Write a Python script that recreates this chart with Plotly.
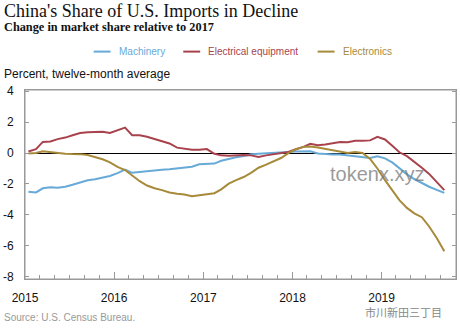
import plotly.graph_objects as go
import pandas as pd

# ---- data ----
months = pd.date_range("2015-01-01", "2019-09-01", freq="MS") + pd.Timedelta(days=14)

series_names = ["Machinery", "Electrical equipment", "Electronics"]
series_colors = ["#67aad8", "#a8434d", "#a78a3a"]

machinery = [-2.5, -2.55, -2.28, -2.22, -2.25, -2.18, -2.05, -1.9, -1.76, -1.7,
             -1.6, -1.48, -1.3, -1.07, -1.28, -1.22, -1.15, -1.12, -1.08, -1.05,
             -1.0, -0.95, -0.88, -0.72, -0.69, -0.68, -0.5, -0.38, -0.27, -0.2,
             -0.08, -0.04, 0.0, 0.03, 0.05, 0.07, 0.1, 0.11, 0.11, -0.03,
             -0.08, -0.1, -0.1, -0.16, -0.2, -0.24, -0.32, -0.21, -0.34, -0.62,
             -1.0, -1.38, -1.68, -1.95, -2.18, -2.38, -2.58]

electrical = [0.1, 0.25, 0.72, 0.75, 0.9, 1.0, 1.15, 1.3, 1.35, 1.38,
              1.38, 1.3, 1.45, 1.65, 1.15, 1.15, 1.05, 0.9, 0.77, 0.62,
              0.35, 0.3, 0.22, 0.22, 0.26, -0.05, -0.15, -0.17, -0.15, -0.12,
              -0.15, -0.25, -0.15, -0.08, -0.03, 0.07, 0.25, 0.4, 0.6, 0.5,
              0.55, 0.65, 0.72, 0.7, 0.8, 0.8, 0.82, 1.05, 0.88, 0.45,
              0.05, -0.2, -0.55, -0.95, -1.35, -1.85, -2.4]

electronics = [-0.03, 0.0, 0.12, 0.05, 0.0, -0.04, -0.06, -0.07, -0.13, -0.25,
               -0.4, -0.6, -0.9, -1.1, -1.45, -1.82, -2.1, -2.28, -2.4, -2.55,
               -2.64, -2.68, -2.8, -2.75, -2.7, -2.6, -2.35, -1.98, -1.75, -1.55,
               -1.28, -0.95, -0.75, -0.55, -0.32, 0.0, 0.25, 0.4, 0.43, 0.36,
               0.28, 0.2, 0.12, 0.0, 0.06, 0.0, -0.38, -1.0, -1.75, -2.45,
               -3.05, -3.55, -3.9, -4.15, -4.75, -5.5, -6.35]

y_tick_vals = [4, 2, 0, -2, -4, -6, -8]
y_tick_text = ["4", "2", "0", "-2", "-4", "-6", "-8"]

# ---- layout geometry (pixels) ----
W, H = 460, 332
L, R, T, B = 24, 457, 89.5, 279


def px(x):
    return (x - L) / (R - L)


def py(y):
    return (B - y) / (B - T)


SANS = "Liberation Sans, Arial, sans-serif"
SERIF = "Liberation Serif, Times New Roman, serif"

fig = go.Figure()
for name, vals, col in zip(series_names, [machinery, electrical, electronics], series_colors):
    fig.add_trace(go.Scatter(x=months, y=vals, mode="lines", name=name,
                             line=dict(color=col, width=2), showlegend=False))

fig.update_layout(
    width=W, height=H,
    margin=dict(l=L, r=W - R, t=T, b=H - B, pad=0),
    paper_bgcolor="white", plot_bgcolor="white",
    font=dict(family=SANS, size=12, color="#111"),
    xaxis=dict(
        type="date", range=["2015-01-01", "2019-11-02"],
        tick0="2015-01-01", dtick="M12", tickformat="%Y",
        ticks="inside", ticklen=7, tickcolor="#999", tickwidth=1,
        minor=dict(dtick="M2", ticks="inside", ticklen=4, tickcolor="#999"),
        showline=True, linecolor="#999", linewidth=1, mirror=True,
        showgrid=False, zeroline=False,
        tickfont=dict(family=SANS, size=12, color="#111"),
        ticklabelstandoff=8,
    ),
    yaxis=dict(
        range=[-8.15, 4.08],
        tickvals=y_tick_vals, ticktext=y_tick_text,
        ticks="inside", ticklen=4, tickcolor="#999",
        showline=True, linecolor="#999", linewidth=1, mirror="ticks",
        showgrid=False, zeroline=True, zerolinecolor="#000", zerolinewidth=1,
        tickfont=dict(family=SANS, size=12, color="#111"),
        ticklabelstandoff=8,
    ),
)


def note(text, x, y, size, family=SANS, color="#111", xanchor="left"):
    return dict(text=text, xref="paper", yref="paper", x=px(x), y=py(y),
                xanchor=xanchor, yanchor="middle", showarrow=False,
                font=dict(family=family, size=size, color=color))


ann = [
    note("China's Share of U.S. Imports in Decline", 1, 10, 18, SERIF),
    note("<b>Change in market share relative to 2017</b>", 1, 26, 12.3, SERIF),
    note("Percent, twelve-month average", 1, 73, 12),
    note("Source: U.S. Census Bureau.", 1, 318, 10, color="#999"),
    note("tokenx.xyz", 378, 174, 20, color="rgba(120,120,120,0.75)", xanchor="center"),
    note("市川新田三丁目", 445, 312.5, 11, family="Noto Sans CJK SC", color="#888", xanchor="right"),
]

# frame
shapes = [dict(type="rect", xref="paper", yref="paper", x0=0, x1=1, y0=0, y1=1,
               line=dict(color="#999", width=1), layer="below")]

# manual legend
leg_line_x = [93, 183, 318]
for name, col, lx in zip(series_names, series_colors, leg_line_x):
    shapes.append(dict(type="line", xref="paper", yref="paper",
                       x0=px(lx), x1=px(lx + 17), y0=py(51), y1=py(51),
                       line=dict(color=col, width=2)))
    ann.append(note(name, lx + 23, 51, 10, color=col))

fig.update_layout(annotations=ann, shapes=shapes)
fig.write_html("out.html")
